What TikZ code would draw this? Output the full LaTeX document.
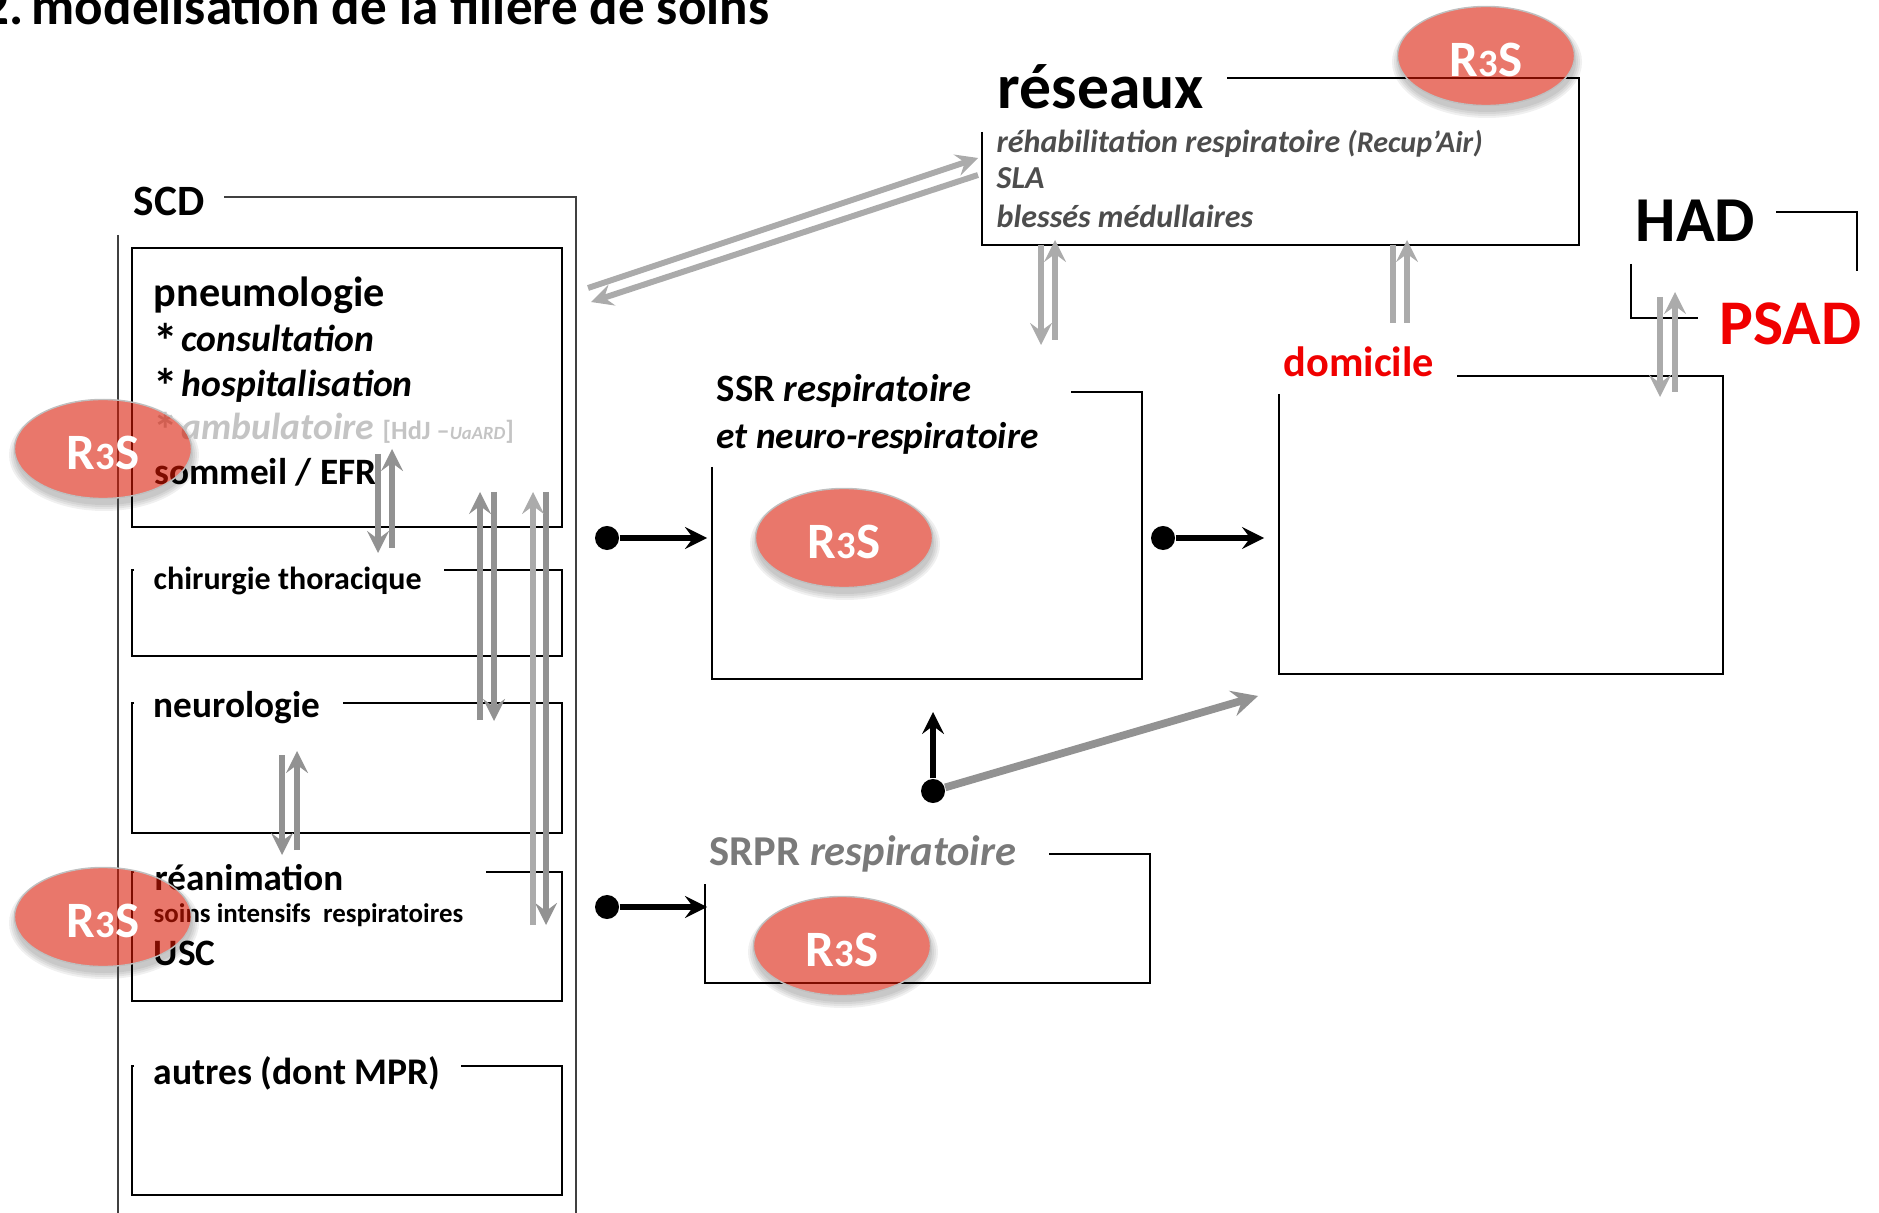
\documentclass[tikz,border=0pt]{standalone}
\usepackage{fontspec}
\setmainfont{Carlito}
\usepackage{xcolor}
\usetikzlibrary{shapes.geometric,arrows}

\definecolor{flowgray}{HTML}{929292}
\definecolor{flowlight}{HTML}{ABABAB}
\definecolor{textgray}{HTML}{4D4D4D}
\definecolor{srprgray}{HTML}{7A7A7A}
\definecolor{ambugray}{HTML}{C4C4C4}
\definecolor{psadred}{HTML}{F00000}
\definecolor{r3sred}{RGB}{218,22,0}

\newcommand{\fsz}[1]{\fontsize{#1}{#1}\selectfont}
\newcommand{\puce}{\makebox[0.28cm][l]{\raisebox{-0.07cm}{\upshape\fsz{14}*}}}

\tikzset{
  frame/.style={draw=black, line width=0.8pt},
  outer/.style={draw=black!75, line width=0.7pt},
  lbl/.style={anchor=base west, inner sep=0pt, font=\fsz{10.6}\bfseries},
  sublbl/.style={lbl, font=\fsz{9.1}\bfseries\itshape, text=textgray},
  flow/.style={->, draw=flowgray, line width=1.7pt},
  flowl/.style={->, draw=flowlight, line width=1.7pt},
  plainl/.style={draw=flowlight, line width=1.7pt},
  dot/.style={circle, fill=black, inner sep=0pt, minimum size=0.24cm},
  go/.style={->, draw=black, line width=1.7pt},
  r3s/.style={ellipse, inner sep=0pt, minimum width=1.77cm, minimum height=0.99cm,
    fill=r3sred, fill opacity=0.58, draw=black!25, draw opacity=1, line width=0.4pt,
    text=white, text opacity=1, font=\fsz{14.5}\bfseries}
}

\begin{document}
\begin{tikzpicture}[x=0.01cm, y=-0.01cm, >=stealth]

\useasboundingbox (0,0) rectangle (1879,1213);
\clip (0,0) rectangle (1879,1213);

% soft shadows and white ground of the ellipses
\foreach \x/\y in {103/449,103/917,1486/56,844/538,842/946} {
  \foreach \s in {8,6,...,2}
    \fill [black, opacity=0.06] (\x+1,\y+6) ellipse ({87+\s} and {48+\s});
  \fill [white] (\x,\y) ellipse (88 and 49);
}

% frames, left open where the titles sit
\draw [outer] (118,235) -- (118,1213);
\draw [outer] (224,197) -- (576,197) -- (576,1213);
\draw [frame] (132,248) rectangle (562,527);
\draw [frame] (134,570) -- (132,570) -- (132,656) -- (562,656) -- (562,570) -- (444,570);
\draw [frame] (134,703) -- (132,703) -- (132,833) -- (562,833) -- (562,703) -- (343,703);
\draw [frame] (134,872) -- (132,872) -- (132,1001) -- (562,1001) -- (562,872) -- (486,872);
\draw [frame] (134,1066) -- (132,1066) -- (132,1195) -- (562,1195) -- (562,1066) -- (461,1066);
\draw [frame] (982,132) -- (982,245) -- (1579,245) -- (1579,78) -- (1227,78);
\draw [frame] (1776,212) -- (1857,212) -- (1857,271);
\draw [frame] (1631,264) -- (1631,318) -- (1698,318);
\draw [frame] (1279,394) -- (1279,674) -- (1723,674) -- (1723,376) -- (1457,376);
\draw [frame] (712,467) -- (712,679) -- (1142,679) -- (1142,392) -- (1071,392);
\draw [frame] (705,884) -- (705,983) -- (1150,983) -- (1150,854) -- (1049,854);

% titles
\node [lbl, font=\fsz{15.1}\bfseries] (title) at (-18,25) {2.\kern0.08cm modélisation de la filière de soins};
\node [lbl, font=\fsz{12.3}\bfseries] (scd) at (133,216) {SCD};
\node [lbl, font=\fsz{12}\bfseries] (pneumo) at (153,307) {pneumologie};
\node [lbl, font=\fsz{10.7}\bfseries\itshape] (consult) at (153,352) {\puce consultation};
\node [lbl, font=\fsz{10.7}\bfseries\itshape] (hospit) at (153,397) {\puce hospitalisation};
\node [lbl, font=\fsz{10.7}\bfseries\itshape, text=ambugray] (ambu) at (153,440)
  {\puce ambulatoire {\upshape\fsz{7.5}[HdJ –{\fsz{5.3}\itshape UaARD}]}};
\node [lbl] (sommeil) at (154,485) {sommeil / EFR};
\node [lbl, font=\fsz{9.1}\bfseries] (chir) at (153,590) {chirurgie thoracique};
\node [lbl] (neuro) at (153,718) {neurologie};
\node [lbl, font=\fsz{10.55}\bfseries] (rea) at (154,890) {réanimation};
\node [lbl, font=\fsz{7.65}\bfseries] (soins) at (153,922) {soins intensifs \ respiratoires};
\node [lbl] (usc) at (153,965) {USC};
\node [lbl, font=\fsz{10.7}\bfseries] (autres) at (153,1084) {autres (dont MPR)};
\node [lbl, font=\fsz{18.1}\bfseries] (reseaux) at (997,109) {réseaux};
\node [sublbl] (rehab) at (996,153) {réhabilitation respiratoire {\fsz{8.55}(Recup’Air)}};
\node [sublbl] (sla) at (996,189) {SLA};
\node [sublbl] (blesses) at (996,228) {blessés médullaires};
\node [lbl, font=\fsz{18.2}\bfseries] (had) at (1635,242) {HAD};
\node [lbl, font=\fsz{18.1}\bfseries, text=psadred] (psad) at (1719,345) {PSAD};
\node [lbl, font=\fsz{12.05}\bfseries, text=psadred] (domicile) at (1283,377) {domicile};
\node [lbl, font=\fsz{11}\bfseries] (ssr) at (716,402) {SSR \textit{respiratoire}};
\node [lbl, font=\fsz{10.6}\bfseries\itshape] (ssr2) at (716,449) {et neuro-respiratoire};
\node [lbl, font=\fsz{12.1}\bfseries, text=srprgray] (srpr) at (709,865) {SRPR \textit{respiratoire}};

% free ends of the grey pairs
\foreach \n/\x/\y in {a1/378/454,a2/378/553,a3/392/548,a4/392/449,
    b1/480/720,b2/480/492,b3/494/492,b4/494/721,
    c1/533/925,c2/533/492,c3/546/492,c4/546/925,
    d1/282/755,d2/282/855,d3/297/850,d4/297/751,
    e1/1041/245,e2/1041/345,e3/1055/340,e4/1055/240,
    f1/1393/245,f2/1393/323,f3/1407/323,f4/1407/240,
    g1/1660/297,g2/1660/397,g3/1675/392,g4/1675/292,
    h1/588/288,h2/978/158,h3/978/175,h4/591/302}
  \coordinate (\n) at (\x,\y);

\foreach \a/\b in {a1/a2,d1/d2,b3/b4,c3/c4,a3/a4,d3/d4,b1/b2}
  \draw [flow] (\a) -- (\b);
\foreach \a/\b in {c1/c2,e1/e2,e3/e4,f3/f4,g1/g2,g3/g4,h1/h2,h3/h4}
  \draw [flowl] (\a) -- (\b);
\draw [plainl] (f1) -- (f2);

% black arrows
\node [dot] (dot-ssr) at (607,538) {};
\node [dot] (dot-dom) at (1163,538) {};
\node [dot] (dot-srpr) at (607,907) {};
\node [dot] (dot-fork) at (933,791) {};
\coordinate (in-ssr) at (707,538);
\coordinate (in-dom) at (1264,538);
\coordinate (in-srpr) at (707,907);
\coordinate (up-ssr) at (933,712);
\coordinate (up-dom) at (1258,696);

\draw [->, draw=flowgray, line width=2.2pt] (dot-fork) -- (up-dom);
\draw [go] (dot-ssr) -- (in-ssr);
\draw [go] (dot-dom) -- (in-dom);
\draw [go] (dot-srpr) -- (in-srpr);
\draw [go] (dot-fork) -- (up-ssr);

% R3S ellipses
\foreach \n/\x/\y in {pneu/103/449,reani/103/917,resx/1486/56,ssrr/844/538,srp/842/946}
  \node [r3s] (r3s-\n) at (\x,\y) {\raisebox{-0.2cm}[0.3cm][0.3cm]{R{\fsz{11}3}S}};

\end{tikzpicture}
\end{document}
